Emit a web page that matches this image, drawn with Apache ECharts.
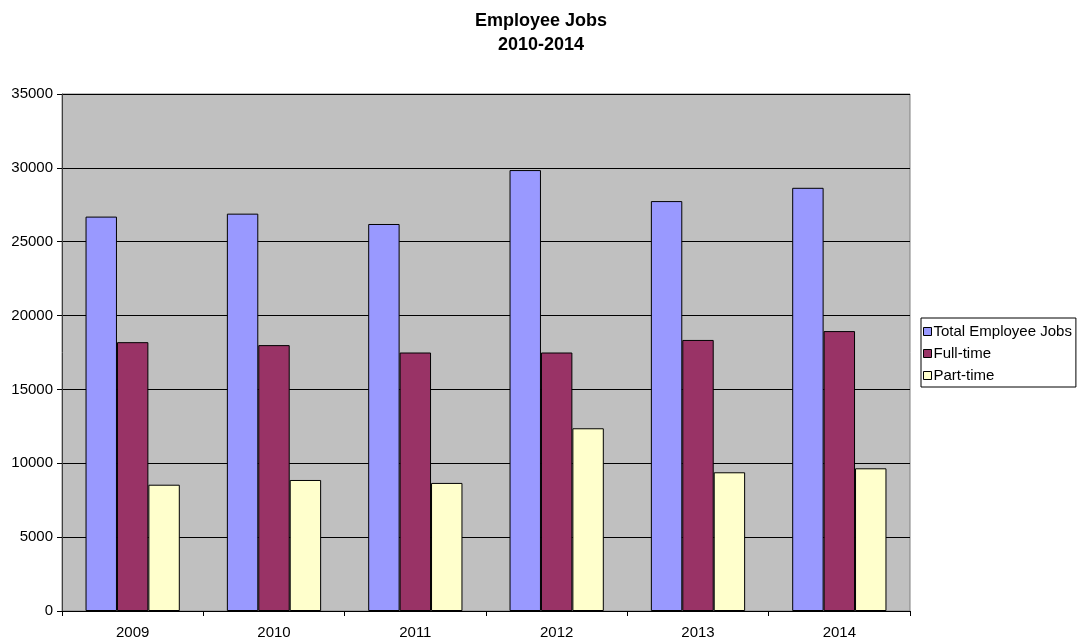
<!DOCTYPE html>
<html><head><meta charset="utf-8">
<script src="https://cdn.jsdelivr.net/npm/echarts@6/dist/echarts.min.js"></script>
<style>html,body{margin:0;padding:0;background:#fff}#c{width:1082px;height:641px}</style>
</head><body><div id="c"></div>
<script>
const categories = ['2009','2010','2011','2012','2013','2014'];
const totalJobs = [26700, 26900, 26200, 29850, 27750, 28650];
const fullTime = [18200, 18000, 17500, 17500, 18350, 18950];
const partTime = [8550, 8870, 8670, 12370, 9390, 9660];
const seriesNames = ['Total Employee Jobs', 'Full-time', 'Part-time'];
const colors = ['#9999FF', '#993366', '#FFFFCC'];

const chart = echarts.init(document.getElementById('c'), null, {renderer:'canvas'});
const font = 'Liberation Sans, Arial, sans-serif';
const mk = (name, data, color) => ({
  name, type:'bar', data, barGap:'0%', barCategoryGap:'33.3%',
  itemStyle:{color, borderColor:'#000', borderWidth:1},
  animation:false
});
chart.setOption({
  animation:false,
  title:{text:'Employee Jobs\n2010-2014', left:'center', top:4,
    textStyle:{fontFamily:font, fontSize:18, fontWeight:'bold', color:'#000', lineHeight:24}},
  legend:{orient:'vertical', left:921, top:318, padding:[6,4,4,2],
    backgroundColor:'#fff', borderColor:'#000', borderWidth:1, itemWidth:8, itemHeight:8, itemGap:7,
    icon:'rect', textStyle:{fontFamily:font, fontSize:15, color:'#000', padding:[0,0,0,-3]},
    itemStyle:{borderColor:'#000', borderWidth:1},
    data:seriesNames},
  grid:{left:62, right:172, top:94, bottom:30, show:true, backgroundColor:'#C0C0C0', borderColor:'#808080', borderWidth:1},
  xAxis:{type:'category', data:categories,
    axisLine:{lineStyle:{color:'#000'}}, axisTick:{show:true, length:5, lineStyle:{color:'#000'}},
    axisLabel:{fontFamily:font, fontSize:15, color:'#000', margin:14}},
  yAxis:{type:'value', min:0, max:35000, interval:5000,
    axisLine:{show:true, lineStyle:{color:'#404040'}}, axisTick:{show:true, length:5, lineStyle:{color:'#000'}},
    axisLabel:{fontFamily:font, fontSize:15, color:'#000', margin:9, formatter:v => String(v)},
    splitLine:{lineStyle:{color:'#000', width:1}}},
  series:[mk(seriesNames[0], totalJobs, colors[0]), mk(seriesNames[1], fullTime, colors[1]), mk(seriesNames[2], partTime, colors[2])]
});
</script></body></html>
